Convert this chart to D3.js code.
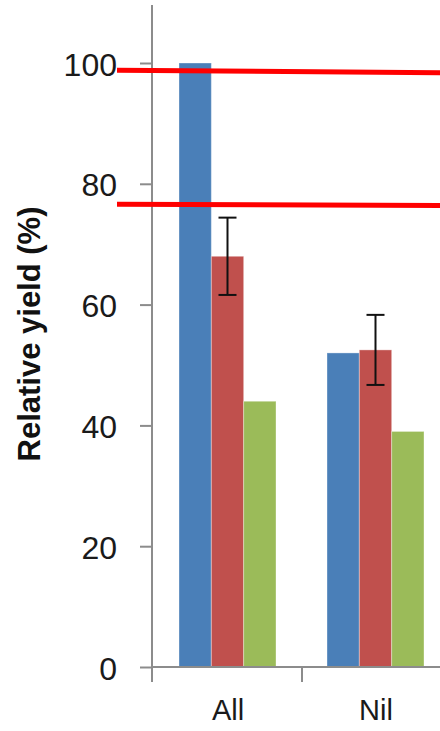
<!DOCTYPE html>
<html>
<head>
<meta charset="utf-8">
<script src="https://cdn.jsdelivr.net/npm/d3@7"></script>
<style>
  html, body { margin: 0; padding: 0; background: #fff; }
  svg { display: block; }
</style>
</head>
<body>
<svg id="chart" width="440" height="731"></svg>
<script>
// Category groups along the x axis
const categories = ["All", "Nil"];
// Three series per group
const seriesKeys = ["first", "second", "third"];
const firstValues = [100, 52];
const secondValues = [68, 52.5];
const thirdValues = [44, 39];
// Error (+/-) on the second series
const secondErrors = [6.4, 5.8];
// Y-axis ticks
const yTicks = [0, 20, 40, 60, 80, 100];
// Red reference lines: value at left end and at right end
const refStart = [98.8, 76.6];
const refEnd = [98.4, 76.4];

const seriesValues = { first: firstValues, second: secondValues, third: thirdValues };
const colors = { first: "#4a7fb8", second: "#c0504d", third: "#9bbb59" };

const W = 440, H = 731;
const axisX = 152;
const svg = d3.select("#chart");

const y = d3.scaleLinear().domain([0, 100]).range([667, 63]);
const x0 = d3.scaleBand().domain(categories).range([154, 450]);
const x1 = d3.scaleBand().domain(seriesKeys).range([25, x0.bandwidth() - 26]);

// Bars
const rows = categories.map((c, i) => ({
  cat: c,
  bars: seriesKeys.map(k => ({ key: k, value: seriesValues[k][i] }))
}));

const groups = svg.append("g").selectAll("g")
  .data(rows).join("g")
  .attr("transform", d => `translate(${x0(d.cat)},0)`);

groups.selectAll("rect")
  .data(d => d.bars).join("rect")
  .attr("x", d => x1(d.key))
  .attr("y", d => y(d.value))
  .attr("width", x1.bandwidth())
  .attr("height", d => y(0) - y(d.value))
  .attr("fill", d => colors[d.key])
  .attr("stroke", "rgba(255,255,255,0.35)")
  .attr("stroke-width", 1);

// Error bars on the second series
const errData = categories.map((c, i) => ({
  cx: x0(c) + x1("second") + x1.bandwidth() / 2,
  hi: secondValues[i] + secondErrors[i],
  lo: secondValues[i] - secondErrors[i]
}));
const eb = svg.append("g").attr("stroke", "#111").attr("stroke-width", 2);
eb.selectAll("line.v").data(errData).join("line").attr("class", "v")
  .attr("x1", d => d.cx).attr("x2", d => d.cx)
  .attr("y1", d => y(d.hi)).attr("y2", d => y(d.lo));
eb.selectAll("line.t").data(errData).join("line").attr("class", "t")
  .attr("x1", d => d.cx - 9).attr("x2", d => d.cx + 9)
  .attr("y1", d => y(d.hi)).attr("y2", d => y(d.hi));
eb.selectAll("line.b").data(errData).join("line").attr("class", "b")
  .attr("x1", d => d.cx - 9).attr("x2", d => d.cx + 9)
  .attr("y1", d => y(d.lo)).attr("y2", d => y(d.lo));

// Y axis
const yAxis = d3.axisLeft(y).tickValues(yTicks).tickSize(12).tickSizeOuter(0).tickPadding(23);
const gy = svg.append("g").attr("transform", `translate(${axisX},0)`).call(yAxis);
gy.select(".domain").remove();
gy.selectAll(".tick line").attr("stroke", "#8c8c8c").attr("stroke-width", 2);
gy.selectAll(".tick text")
  .attr("font-family", "'Liberation Sans', Arial, sans-serif")
  .attr("font-size", 32)
  .attr("fill", "#1a1a1a")
  .attr("dy", "0.38em");

svg.append("line")
  .attr("x1", axisX).attr("x2", axisX)
  .attr("y1", 5).attr("y2", y(0) + 15)
  .attr("stroke", "#8c8c8c").attr("stroke-width", 2);

// X axis line and category boundary ticks
svg.append("line")
  .attr("x1", axisX).attr("x2", W)
  .attr("y1", y(0)).attr("y2", y(0))
  .attr("stroke", "#8c8c8c").attr("stroke-width", 2);

svg.append("g").selectAll("line")
  .data(categories.slice(1)).join("line")
  .attr("x1", d => x0(d)).attr("x2", d => x0(d))
  .attr("y1", y(0)).attr("y2", y(0) + 15)
  .attr("stroke", "#8c8c8c").attr("stroke-width", 2);

const xAxis = d3.axisBottom(x0).tickSize(0).tickPadding(32);
const gx = svg.append("g").attr("transform", `translate(0,${y(0)})`).call(xAxis);
gx.select(".domain").remove();
gx.selectAll(".tick text")
  .attr("font-family", "'Liberation Sans', Arial, sans-serif")
  .attr("font-size", 29)
  .attr("fill", "#1a1a1a");

// Y axis title
svg.append("text")
  .attr("transform", `translate(40,334) rotate(-90)`)
  .attr("text-anchor", "middle")
  .attr("font-family", "'Liberation Sans', Arial, sans-serif")
  .attr("font-weight", "bold")
  .attr("font-size", 31)
  .attr("fill", "#111")
  .text("Relative yield (%)");

// Red reference lines
svg.append("g").selectAll("line")
  .data(refStart.map((s, i) => ({ s, e: refEnd[i] }))).join("line")
  .attr("x1", axisX - 35).attr("x2", W)
  .attr("y1", d => y(d.s)).attr("y2", d => y(d.e))
  .attr("stroke", "#ff0000").attr("stroke-width", 5);
</script>
</body>
</html>
